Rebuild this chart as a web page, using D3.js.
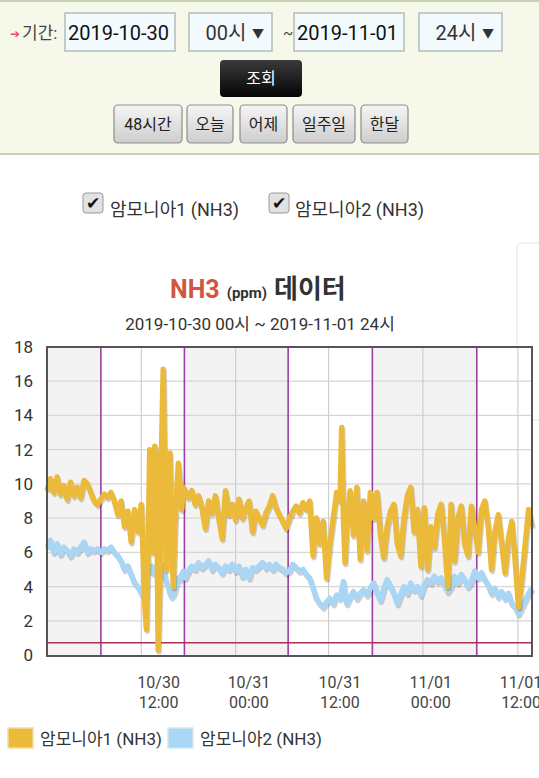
<!DOCTYPE html>
<html>
<head>
<meta charset="utf-8">
<script src="https://cdn.jsdelivr.net/npm/d3@7"></script>
<style>
  body { margin: 0; background: #fff; }
  svg { display: block; font-family: Roboto, "Noto Sans CJK KR", "Noto Sans", sans-serif; }
</style>
</head>
<body>
<div id="chart"></div>
<script>
// hours since 2019-10-30 00:00
const hours = [
  0,0.5,1,1.5,2,2.5,3,3.5,4,4.5,5,5.5,6,6.5,7,7.5,8,8.5,9,9.5,10,10.5,11,11.5,12,12.5,13,13.5,
  14,14.25,14.5,14.75,15,15.25,15.5,15.75,16,16.25,16.5,16.75,17,17.25,17.5,17.75,18,18.25,18.5,18.75,19,19.25,19.5,19.75,20,20.25,20.5,
  21,21.5,22,22.5,23,23.5,24,24.5,25,25.5,26,26.5,27,27.5,28,28.5,29,29.5,30,30.5,
  31,31.5,32,32.5,33,33.5,34,34.5,35,35.5,36,36.5,37,37.5,38,38.5,39,39.5,40,40.5,
  41,41.5,42,42.5,43,43.5,43.75,44,44.25,
  44.5,45,45.5,46,46.5,47,47.5,48,48.5,49,49.5,50,50.5,51,51.5,52,52.5,53,53.5,54,
  54.5,55,55.5,56,56.5,57,57.5,58,58.5,59,59.5,60,60.5,61,61.5,62,62.5,63,63.5,64,
  64.5,65,65.5,66,66.5,67,67.5,68,68.5,69,69.5,70,70.5,71,71.5,72
];

// 암모니아1 (NH3), ppm
const ammonia1 = [
  9.6,10.3,9.5,10.4,9.4,9.9,9.1,10.1,9.3,9.8,9.2,10.2,10.0,9.5,9.0,8.8,9.1,9.4,9.2,9.5,9.0,8.2,9.0,7.5,8.4,6.6,8.5,7.2,
  8.8,6.0,3.0,1.5,6.0,12.0,8.0,6.0,12.2,11.5,0.3,4.0,12.0,16.7,10.0,5.0,9.0,11.8,7.0,4.0,7.5,9.5,11.2,10.0,8.5,9.8,9.6,
  9.2,9.6,8.8,9.3,8.6,7.4,9.0,8.3,9.3,8.0,6.8,9.6,8.2,8.8,7.9,9.1,8.0,8.6,9.0,7.2,
  8.4,8.0,7.6,8.3,8.7,9.3,8.6,8.2,7.8,7.4,8.0,8.4,8.7,8.3,8.9,8.5,9.0,5.8,8.0,6.5,
  7.8,4.5,6.5,8.0,9.5,9.0,13.3,8.0,5.4,
  7.5,9.6,7.0,9.8,5.6,9.0,6.1,9.5,8.0,9.5,7.0,5.7,7.5,8.4,8.8,6.5,5.8,8.0,9.3,9.8,
  7.2,8.5,5.2,8.6,5.0,7.5,6.3,8.2,8.8,6.8,4.0,8.8,5.5,8.0,8.7,6.5,5.8,8.7,7.4,6.0,
  8.5,9.0,7.5,5.0,7.2,8.2,6.5,4.8,6.8,7.8,5.5,2.8,4.5,6.5,8.5,7.5
];

// 암모니아2 (NH3), ppm
const ammonia2 = [
  6.3,6.7,6.0,6.5,5.9,6.3,6.1,5.8,6.2,6.0,6.3,6.6,6.0,6.2,6.1,6.2,6.0,6.2,6.1,6.3,6.0,5.8,5.5,5.0,5.2,4.7,4.2,4.0,
  3.6,3.8,4.2,4.6,4.9,5.0,5.2,4.8,5.1,4.7,4.4,4.8,5.3,5.0,4.6,4.2,4.0,3.6,3.4,3.5,3.8,4.2,4.5,4.4,4.7,4.9,4.5,
  4.9,5.2,5.0,5.4,5.1,5.3,5.5,5.0,5.3,5.1,4.8,5.2,5.0,5.3,4.9,5.2,4.6,5.0,4.5,5.1,
  5.0,5.2,5.4,5.1,5.3,5.0,5.3,5.1,5.0,4.8,4.9,5.3,5.1,4.9,5.0,4.7,4.5,3.9,3.3,3.0,
  2.8,3.1,3.3,3.0,3.5,3.3,3.8,4.3,3.4,
  3.0,3.4,3.7,3.3,3.6,3.8,3.5,3.9,4.2,3.6,3.2,3.9,4.4,4.0,3.6,3.0,3.5,4.0,3.6,4.2,
  3.8,4.0,3.5,4.1,4.4,4.2,4.6,4.3,4.5,4.1,3.7,4.0,4.6,4.2,4.7,4.4,4.0,4.3,4.9,4.5,
  4.8,4.4,4.1,3.6,3.9,3.4,3.7,3.3,3.6,3.0,2.8,2.4,2.8,3.2,3.6,3.9
];

const yTicks = [0, 2, 4, 6, 8, 10, 12, 14, 16, 18];
const dayLines = [8, 20.4, 35.8, 48.3, 63.8];     // purple lines
const gridHours = [14, 28, 41.8, 55.8, 69.9];      // grey vertical grid
const labelHours = [16.5, 29.9, 43.4, 56.9, 70.3];
const labelDates = ["10/30", "10/31", "10/31", "11/01", "11/01"];
const labelTimes = ["12:00", "00:00", "12:00", "00:00", "12:00"];
const limitValue = 0.72;
const seriesNames = ["암모니아1 (NH3)", "암모니아2 (NH3)"];
const seriesColors = ["#ecba3a", "#a9d6f5"];

const width = 539, height = 778;
const svg = d3.select("#chart").append("svg")
  .attr("width", width).attr("height", height);

const defs = svg.append("defs");
const btnGrad = defs.append("linearGradient").attr("id", "btn").attr("x1", 0).attr("y1", 0).attr("x2", 0).attr("y2", 1);
btnGrad.append("stop").attr("offset", 0).attr("stop-color", "#f6f6f6");
btnGrad.append("stop").attr("offset", 1).attr("stop-color", "#cdcdcd");
const darkGrad = defs.append("linearGradient").attr("id", "dark").attr("x1", 0).attr("y1", 0).attr("x2", 0).attr("y2", 1);
darkGrad.append("stop").attr("offset", 0).attr("stop-color", "#3a3a3a");
darkGrad.append("stop").attr("offset", 1).attr("stop-color", "#050505");

// ---- search form ----
const form = svg.append("g");
form.append("rect").attr("x", 0).attr("y", 0).attr("width", width).attr("height", 155).attr("fill", "#f6f9ea");
form.append("line").attr("x1", 0).attr("x2", width).attr("y1", 1).attr("y2", 1).attr("stroke", "#c9d1b4").attr("stroke-width", 2);
form.append("line").attr("x1", 0).attr("x2", width).attr("y1", 154).attr("y2", 154).attr("stroke", "#c9d1b4").attr("stroke-width", 2);

form.append("text").attr("x", 10).attr("y", 38).attr("font-size", 12).attr("fill", "#e0506a").text("➔");
form.append("text").attr("x", 22).attr("y", 39).attr("font-size", 17).attr("fill", "#444").text("기간:");

const boxes = [
  { x: 65, w: 110, text: "2019-10-30", arrow: false },
  { x: 189, w: 83, text: "00시", arrow: true },
  { x: 294, w: 110, text: "2019-11-01", arrow: false },
  { x: 419, w: 83, text: "24시", arrow: true }
];
boxes.forEach(b => {
  form.append("rect").attr("x", b.x).attr("y", 13).attr("width", b.w).attr("height", 38)
    .attr("fill", "#f3fafd").attr("stroke", "#b4bcbc").attr("stroke-width", 1.5);
  form.append("text").attr("x", b.arrow ? b.x + 37 : b.x + 3).attr("y", 40)
    .attr("font-size", 20).attr("fill", b.arrow ? "#333" : "#111")
    .attr("text-anchor", b.arrow ? "middle" : "start").text(b.text);
  if (b.arrow) {
    form.append("text").attr("x", b.x + 69).attr("y", 38).attr("font-size", 12)
      .attr("text-anchor", "middle").attr("fill", "#333").text("▼");
  }
});
form.append("text").attr("x", 283).attr("y", 38).attr("font-size", 15).attr("fill", "#444").text("~");

form.append("rect").attr("x", 220).attr("y", 60).attr("width", 82).attr("height", 37).attr("rx", 4)
  .attr("fill", "url(#dark)");
form.append("text").attr("x", 261).attr("y", 84).attr("font-size", 16).attr("fill", "#fff")
  .attr("text-anchor", "middle").text("조회");

const quick = [
  { x: 114, w: 68, t: "48시간" },
  { x: 187, w: 46, t: "오늘" },
  { x: 240, w: 47, t: "어제" },
  { x: 293, w: 62, t: "일주일" },
  { x: 361, w: 47, t: "한달" }
];
quick.forEach(b => {
  form.append("rect").attr("x", b.x).attr("y", 105).attr("width", b.w).attr("height", 38).attr("rx", 4)
    .attr("fill", "url(#btn)").attr("stroke", "#8d8d8d").attr("stroke-width", 1.2);
  form.append("text").attr("x", b.x + b.w / 2).attr("y", 130).attr("font-size", 16).attr("fill", "#222")
    .attr("text-anchor", "middle").text(b.t);
});

// ---- checkboxes ----
[{ x: 83, tx: 110 }, { x: 269, tx: 295 }].forEach((c, i) => {
  svg.append("rect").attr("x", c.x).attr("y", 193).attr("width", 20).attr("height", 20).attr("rx", 3)
    .attr("fill", "#e2e2e2").attr("stroke", "#9a9a9a");
  svg.append("text").attr("x", c.x + 10).attr("y", 209).attr("font-size", 17).attr("text-anchor", "middle")
    .attr("font-family", "DejaVu Sans").attr("fill", "#111").text("✔");
  svg.append("text").attr("x", c.tx).attr("y", 216).attr("font-size", 18).attr("fill", "#333").text(seriesNames[i]);
});

// side panel edge cut by the screen
svg.append("rect").attr("x", 517).attr("y", 243).attr("width", 40).attr("height", 177).attr("rx", 5)
  .attr("fill", "none").attr("stroke", "#e2e2e2");

// ---- title ----
const title = svg.append("text").attr("x", 170).attr("y", 298).attr("font-weight", "bold");
title.append("tspan").attr("font-size", 25).attr("fill", "#d4553f").text("NH3");
title.append("tspan").attr("font-size", 15).attr("fill", "#333").attr("dx", 7).text("(ppm)");
title.append("tspan").attr("font-size", 26).attr("fill", "#333").attr("dx", 7).text("데이터");
svg.append("text").attr("x", 260).attr("y", 330).attr("text-anchor", "middle").attr("font-size", 17)
  .attr("fill", "#333").text("2019-10-30 00시 ~ 2019-11-01 24시");

// ---- chart ----
const x = d3.scaleLinear().domain([0, 72]).range([47, 532]);
const y = d3.scaleLinear().domain([0, 18]).range([655, 347]);

const plot = svg.append("g");
plot.append("rect").attr("x", 47).attr("y", 347).attr("width", 485).attr("height", 309).attr("fill", "#fff");

// shaded bands between the purple lines
const bandEdges = [0].concat(dayLines, [72]);
plot.selectAll(".band").data(d3.range(0, bandEdges.length - 1, 2)).enter().append("rect")
  .attr("x", i => x(bandEdges[i])).attr("width", i => x(bandEdges[i + 1]) - x(bandEdges[i]))
  .attr("y", 347).attr("height", 309).attr("fill", "#f3f3f3");

plot.selectAll(".hgrid").data(yTicks.slice(1, -1)).enter().append("line")
  .attr("x1", 47).attr("x2", 532).attr("y1", d => y(d)).attr("y2", d => y(d))
  .attr("stroke", "#d6d6d6").attr("stroke-width", 1.2);

plot.selectAll(".vgrid").data(gridHours).enter().append("line")
  .attr("x1", d => x(d)).attr("x2", d => x(d)).attr("y1", 347).attr("y2", 656)
  .attr("stroke", "#cfcfcf").attr("stroke-width", 1.2);

plot.selectAll(".day").data(dayLines).enter().append("line")
  .attr("x1", d => x(d)).attr("x2", d => x(d)).attr("y1", 347).attr("y2", 656)
  .attr("stroke", "#9c3fa3").attr("stroke-width", 1.6);

plot.append("line").attr("x1", 47).attr("x2", 532).attr("y1", y(limitValue)).attr("y2", y(limitValue))
  .attr("stroke", "#a83252").attr("stroke-width", 1.6);

// series lines, second one first so the first sits on top
const line = d3.line().x(d => x(d[0])).y(d => y(d[1]));
[ammonia2, ammonia1].forEach((vals, k) => {
  const pts = hours.map((h, i) => [h, vals[i]]);
  plot.append("path").datum(pts).attr("d", line).attr("fill", "none")
    .attr("transform", "translate(1,2)")
    .attr("stroke", "#000").attr("stroke-opacity", 0.18).attr("stroke-width", 5.5)
    .attr("stroke-linejoin", "round");
  plot.append("path").datum(pts).attr("d", line).attr("fill", "none")
    .attr("stroke", seriesColors[1 - k]).attr("stroke-width", 5.5)
    .attr("stroke-linejoin", "round");
});

plot.append("rect").attr("x", 47).attr("y", 347).attr("width", 485).attr("height", 309)
  .attr("fill", "none").attr("stroke", "#555").attr("stroke-width", 2);

// Y axis
svg.append("g").attr("transform", "translate(33,0)")
  .call(d3.axisLeft(y).tickValues(yTicks).tickSize(0).tickPadding(0))
  .call(g => g.select(".domain").remove())
  .selectAll("text").attr("font-size", 17).attr("fill", "#333")
  .attr("font-family", "Roboto, sans-serif");

// X axis, two-line labels
const xAxis = svg.append("g").attr("transform", "translate(0,672)")
  .call(d3.axisBottom(x).tickValues(labelHours).tickSize(0).tickFormat(""))
  .call(g => g.select(".domain").remove());
xAxis.selectAll(".tick text").each(function (d, i) {
  const t = d3.select(this).attr("y", 0).attr("dy", null).attr("font-size", 16).attr("fill", "#444")
    .attr("font-family", "Roboto, sans-serif");
  t.append("tspan").attr("x", 0).attr("dy", "1em").text(labelDates[i]);
  t.append("tspan").attr("x", 0).attr("dy", "1.25em").text(labelTimes[i]);
});

// legend
const legendPos = [{ x: 8, tx: 40 }, { x: 168, tx: 200 }];
legendPos.forEach((p, i) => {
  svg.append("rect").attr("x", p.x).attr("y", 728).attr("width", 25).attr("height", 20)
    .attr("fill", seriesColors[i]).attr("stroke", i ? "#d3e6f2" : "#f3dd9c").attr("stroke-width", 1.5);
  svg.append("text").attr("x", p.tx).attr("y", 745).attr("font-size", 17).attr("fill", "#333")
    .text(seriesNames[i]);
});
</script>
</body>
</html>
